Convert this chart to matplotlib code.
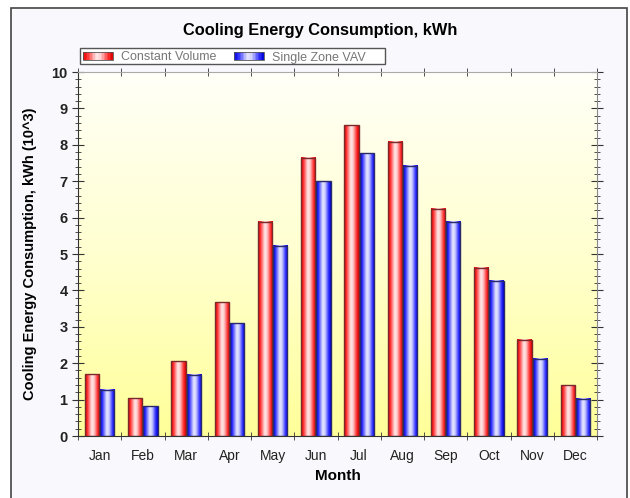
import numpy as np
import matplotlib
matplotlib.use('Agg')
import matplotlib.pyplot as plt
from matplotlib.colors import LinearSegmentedColormap
from matplotlib.patches import Rectangle
from matplotlib.legend_handler import HandlerBase

months = ['Jan', 'Feb', 'Mar', 'Apr', 'May', 'Jun', 'Jul', 'Aug', 'Sep', 'Oct', 'Nov', 'Dec']
constant_volume = [1.70, 1.04, 2.06, 3.68, 5.88, 7.64, 8.54, 8.08, 6.24, 4.62, 2.64, 1.40]
single_zone_vav = [1.27, 0.82, 1.68, 3.10, 5.22, 7.00, 7.77, 7.42, 5.88, 4.26, 2.12, 1.02]
series_names = ['Constant Volume', 'Single Zone VAV']

plt.rcParams['font.family'] = ['Liberation Sans', 'DejaVu Sans']

red_cmap = LinearSegmentedColormap.from_list(
    'r', [(0, '#d80000'), (0.15, '#ff2a2a'), (0.45, '#ffe6e6'), (0.6, '#ffd0d0'), (0.85, '#ff3030'), (1, '#d80000')])
blue_cmap = LinearSegmentedColormap.from_list(
    'b', [(0, '#0000d0'), (0.15, '#2a2aff'), (0.45, '#e6e6ff'), (0.6, '#d0d0ff'), (0.85, '#3030ff'), (1, '#0000d0')])
grad = np.linspace(0, 1, 64).reshape(1, -1)

fig = plt.figure(figsize=(6.3, 4.98), dpi=100)
fig.patch.set_facecolor('white')
# outer panel
fig.patches.append(Rectangle((11 / 630, -0.01), 616 / 630, 1.01 - 8 / 498, transform=fig.transFigure,
                             facecolor='#f9f9fd', edgecolor='#444444', linewidth=1.2, zorder=-5))

ax = fig.add_axes([78 / 630, 1 - 436 / 498, (597 - 78) / 630, (436 - 72) / 498])
ax.set_xlim(-0.5, 11.5)
ax.set_ylim(0, 10)

# background gradient white -> yellow
bg_cmap = LinearSegmentedColormap.from_list('bg', ['#ffff9a', '#ffffd0', '#fffff8'])
ax.imshow(np.linspace(0, 1, 100).reshape(-1, 1), cmap=bg_cmap, origin='lower', aspect='auto',
          extent=(0, 1, 0, 1), transform=ax.transAxes, zorder=0)

x = np.arange(len(months))
width = 0.33
offset = 0.175
for vals, cmap, dx, edge in [(constant_volume, red_cmap, -offset, '#7a2a2a'),
                             (single_zone_vav, blue_cmap, offset, '#2a2a6a')]:
    for xi, v in zip(x, vals):
        x0 = xi + dx - width / 2
        ax.imshow(grad, cmap=cmap, aspect='auto', extent=(x0, x0 + width, 0, v), zorder=2)
    ax.bar(x + dx, vals, width=width, facecolor='none', edgecolor=edge, linewidth=1.0, zorder=3)

ax.set_xlim(-0.5, 11.5)
ax.set_ylim(0, 10)

ax.set_xticks(x)
ax.set_xticklabels(months, fontsize=10, color='#222222')
ax.set_xticks(np.arange(-0.5, 12, 1), minor=True)
ax.tick_params(axis='x', which='major', length=0, pad=9)
ax.tick_params(axis='x', which='minor', direction='inout', length=6, top=True, color='#333333')
ax.set_yticks(range(0, 11))
ax.set_yticklabels([str(i) for i in range(0, 11)], fontsize=10.5, fontweight='bold', color='#222222')
ax.set_yticks(np.arange(0, 10.01, 0.2), minor=True)
ax.tick_params(axis='y', which='major', direction='inout', length=8, right=True, color='#333333')
ax.tick_params(axis='y', which='minor', direction='inout', length=4, right=True, color='#333333')

ax.spines['left'].set_color('#333333')
ax.spines['bottom'].set_color('#333333')
ax.spines['top'].set_color('#aaaaaa')
ax.spines['right'].set_color('#888888')

ax.set_xlabel('Month', fontsize=11, fontweight='bold', labelpad=5)
ax.set_ylabel('Cooling Energy Consumption, kWh (10^3)', fontsize=10.5, fontweight='bold', labelpad=10)
fig.text(320 / 630, 1 - 30 / 498, 'Cooling Energy Consumption, kWh', ha='center', va='center',
         fontsize=11.8, fontweight='bold')


class GradHandler(HandlerBase):
    def __init__(self, cmap):
        super().__init__()
        self.cmap = cmap

    def create_artists(self, legend, orig_handle, xdescent, ydescent, width, height, fontsize, trans):
        arts = []
        n = 20
        for k in range(n):
            arts.append(Rectangle((-xdescent + width * k / n, -ydescent), width / n + 0.3, height,
                                  facecolor=self.cmap((k + 0.5) / n), edgecolor='none', transform=trans))
        arts.append(Rectangle((-xdescent, -ydescent), width, height, facecolor='none',
                              edgecolor='#555555', linewidth=0.6, transform=trans))
        return arts


# legend box (drawn separately so it can be wider than its entries)
fig.patches.append(Rectangle((80 / 630, 1 - 64 / 498), 305 / 630, 16 / 498, transform=fig.transFigure,
                             facecolor='white', edgecolor='#555555', linewidth=1.0, zorder=4))

h1 = Rectangle((0, 0), 1, 1)
h2 = Rectangle((0, 0), 1, 1)
leg = fig.legend([h1, h2], series_names, loc='upper left', bbox_to_anchor=(80 / 630, 1 - 49 / 498),
                 ncol=2, fontsize=9, handlelength=2.4, handleheight=0.55, handletextpad=0.65,
                 columnspacing=1.4, borderpad=0.2, borderaxespad=0, frameon=False,
                 handler_map={h1: GradHandler(red_cmap), h2: GradHandler(blue_cmap)})
leg.set_zorder(5)
for t in leg.get_texts():
    t.set_color('#777777')

fig.savefig('out.png', dpi=100)
